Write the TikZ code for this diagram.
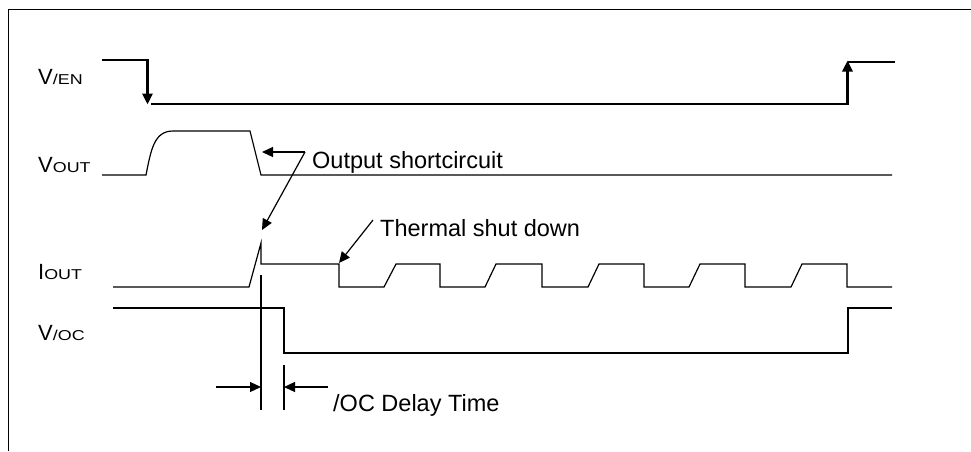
\documentclass[tikz,border=0pt]{standalone}
\usepackage{fontspec}
\usepackage{graphicx}
\setmainfont{Liberation Sans}
\usetikzlibrary{arrows.meta}
\newcommand\lblbig{\fontsize{23.5}{27}\selectfont}
\newcommand\lblV{\fontsize{22}{26}\selectfont}
\newcommand\lblsub[1]{\scalebox{1.25}[1]{\fontsize{14.3}{17}\selectfont #1}}
\begin{document}
\begin{tikzpicture}[x=1pt,y=-1pt,
  wave/.style={line width=1.2pt, line join=miter},
  frame/.style={line width=1pt},
  bigarrow/.style={line width=3pt, -{Triangle[length=11pt,width=10pt]}},
  note/.style={line width=1.2pt, -{Triangle[length=11pt,width=10pt]}},
  txt/.style={inner sep=0pt, anchor=base west, font=\lblbig},
  lbl/.style={inner sep=0pt, anchor=base west, font=\lblV}]
\useasboundingbox (0,0) rectangle (971,451);
% frame
\draw[frame] (8,451) -- (8,9) -- (971,9);
% labels
\node[lbl] (len)  at (38,84.3)  {V\lblsub{/EN}};
\node[lbl] (lout) at (38,172.3) {V\lblsub{OUT}};
\node[lbl] (liou) at (38,279)   {I\lblsub{OUT}};
\node[lbl] (loc)  at (38,340)   {V\lblsub{/OC}};
% V/EN
\draw[wave] (102,60) -- (148,60);
\draw[bigarrow] (147.5,59) -- (147.5,104.5);
\draw[wave] (151,104) -- (848,104);
\draw[bigarrow] (847.5,105) -- (847.5,60.5);
\draw[wave] (848,62) -- (895,62);
% VOUT
\draw[wave] (102,175) -- (146,175) .. controls (151,150) and (154,131) .. (173,131)
  -- (250,131) -- (261,175) -- (892,175);
% IOUT
\draw[wave] (113,287) -- (249,287) -- (261,243) -- (261,264) -- (339,264) -- (339,287)
  -- (384,287) -- (396,264) -- (440,264) -- (440,287)
  -- (485,287) -- (496,264) -- (542,264) -- (542,287)
  -- (588,287) -- (599,264) -- (644,264) -- (644,287)
  -- (689,287) -- (700,264) -- (745,264) -- (745,287)
  -- (791,287) -- (802,264) -- (847,264) -- (847,287) -- (892,287);
% V/OC
\draw[wave] (113,308) -- (284,308) -- (284,353) -- (848,353) -- (848,308) -- (892,308);
% delay markers
\draw[wave] (261,275) -- (261,410);
\draw[wave] (284,365) -- (284,410);
\coordinate (dl) at (216,387);
\coordinate (dlt) at (261,387);
\coordinate (dr) at (328,387);
\coordinate (drt) at (284,387);
\draw[note] (dl) -- (dlt);
\draw[note] (dr) -- (drt);
\node[txt] (tdelay) at (333,411.5) {/OC Delay Time};
% output shortcircuit
\coordinate (osc) at (305,152);
\coordinate (osa) at (262,152);
\coordinate (osb) at (262,230);
\draw[note] (osc) -- (osa);
\draw[note] (osc) -- (osb);
\node[txt] (tosc) at (312,168) {Output shortcircuit};
% thermal shut down
\coordinate (tsd) at (373,220);
\coordinate (tsa) at (339,263);
\draw[note] (tsd) -- (tsa);
\node[txt] (ttsd) at (380,236.5) {Thermal shut down};
\end{tikzpicture}
\end{document}
